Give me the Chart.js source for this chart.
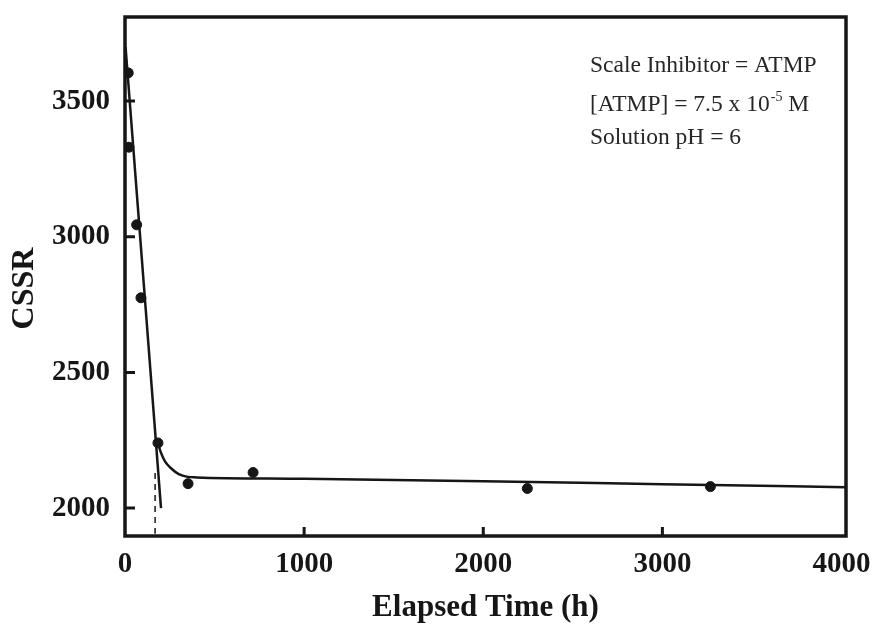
<!DOCTYPE html>
<html>
<head>
<meta charset="utf-8">
<script src="https://cdn.jsdelivr.net/npm/chart.js@4.4.1/dist/chart.umd.min.js"></script>
<style>
  html, body { margin: 0; padding: 0; background: #fff; }
  #wrap { width: 875px; height: 637px; }
</style>
</head>
<body>
<div id="wrap"><canvas id="cssr-chart" width="875" height="637"></canvas></div>
<script>
  // measured points (elapsed time in h, CSSR)
  const timeHours = [18, 22, 65, 89, 184, 352, 715, 2246, 3268];
  const cssrValues = [3604, 3330, 3044, 2775, 2240, 2090, 2131, 2072, 2079];

  // steep initial fit line
  const steepT = [3, 201];
  const steepCssr = [3700, 2000];

  // plateau curve
  const plateauT = [184, 200, 225, 260, 300, 350, 400, 1000, 2000, 3000, 4025];
  const plateauCssr = [2240, 2205, 2170, 2145, 2125, 2115, 2113, 2108, 2099, 2088, 2077];

  // dashed intercept marker
  const dashT = [168, 168];
  const dashCssr = [2129, 1905];

  const xTicks = [0, 1000, 2000, 3000, 4000];
  const yTicks = [2000, 2500, 3000, 3500];
  const notes = ["Scale Inhibitor = ATMP", "[ATMP] = 7.5 x 10", "Solution pH = 6"];

  const serif = "'Liberation Serif', 'Times New Roman', serif";
  const toXY = (xs, ys) => xs.map((x, i) => ({ x: x, y: ys[i] }));

  const frameAndTicks = {
    id: "frameAndTicks",
    afterDatasetsDraw(chart) {
      const { ctx, chartArea: a, scales } = chart;
      ctx.save();
      ctx.strokeStyle = "#161616";
      ctx.lineWidth = 3.5;
      ctx.strokeRect(a.left, a.top, a.right - a.left, a.bottom - a.top);
      ctx.lineWidth = 3;
      ctx.beginPath();
      xTicks.forEach((v) => {
        if (v === 0 || v === 4000) return;
        const px = scales.x.getPixelForValue(v);
        ctx.moveTo(px, a.bottom);
        ctx.lineTo(px, a.bottom - 9);
      });
      yTicks.forEach((v) => {
        const py = scales.y.getPixelForValue(v);
        ctx.moveTo(a.left, py);
        ctx.lineTo(a.left + 10, py);
      });
      ctx.stroke();

      // annotation
      const tx = 590;
      ctx.fillStyle = "#262626";
      ctx.font = "23.5px " + serif;
      ctx.textBaseline = "alphabetic";
      ctx.textAlign = "left";
      ctx.fillText(notes[0], tx, 72);
      ctx.fillText(notes[1], tx, 111);
      const w = ctx.measureText(notes[1]).width;
      ctx.font = "14px " + serif;
      ctx.fillText("-5", tx + w + 1, 101);
      const w2 = ctx.measureText("-5").width;
      ctx.font = "23.5px " + serif;
      ctx.fillText(" M", tx + w + w2 + 1, 111);
      ctx.fillText(notes[2], tx, 144);
      ctx.restore();
    }
  };

  new Chart(document.getElementById("cssr-chart"), {
    type: "scatter",
    data: {
      datasets: [
        {
          data: toXY(timeHours, cssrValues),
          backgroundColor: "#161616",
          borderColor: "#161616",
          pointRadius: 5,
          showLine: false
        },
        {
          data: toXY(steepT, steepCssr),
          showLine: true,
          borderColor: "#161616",
          borderWidth: 2.5,
          pointRadius: 0
        },
        {
          data: toXY(plateauT, plateauCssr),
          showLine: true,
          borderColor: "#161616",
          borderWidth: 2.5,
          pointRadius: 0,
          cubicInterpolationMode: "monotone"
        },
        {
          data: toXY(dashT, dashCssr),
          showLine: true,
          borderColor: "#161616",
          borderWidth: 1.5,
          borderDash: [6, 5],
          pointRadius: 0
        }
      ]
    },
    options: {
      responsive: false,
      animation: false,
      layout: { padding: { left: 0, right: 29, top: 17, bottom: 0 } },
      plugins: { legend: { display: false }, tooltip: { enabled: false } },
      scales: {
        x: {
          type: "linear",
          min: 0,
          max: 4025,
          afterBuildTicks: (s) => { s.ticks = xTicks.map((v) => ({ value: v })); },
          afterFit: (s) => { s.height = 101; s.paddingLeft = 0; s.paddingRight = 0; },
          grid: { display: false },
          border: { display: false },
          ticks: {
            color: "#161616",
            padding: 3,
            maxRotation: 0,
            callback: (v) => String(v),
            font: { family: serif, size: 29, weight: "bold" }
          },
          title: {
            display: true,
            text: "Elapsed Time (h)",
            color: "#161616",
            padding: { top: 0, bottom: 10 },
            font: { family: serif, size: 31, weight: "bold" }
          }
        },
        y: {
          type: "linear",
          min: 1897,
          max: 3810,
          afterBuildTicks: (s) => { s.ticks = yTicks.map((v) => ({ value: v })); },
          afterFit: (s) => { s.width = 125; s.paddingTop = 0; s.paddingBottom = 0; },
          grid: { display: false },
          border: { display: false },
          ticks: {
            color: "#161616",
            padding: 7,
            callback: (v) => String(v),
            font: { family: serif, size: 29, weight: "bold" }
          },
          title: {
            display: true,
            // trailing spaces nudge the rotated word down like the original
            text: "CSSR   ",
            color: "#161616",
            padding: { top: 6, bottom: 0 },
            font: { family: serif, size: 32, weight: "bold" }
          }
        }
      }
    },
    plugins: [frameAndTicks]
  });
</script>
</body>
</html>
